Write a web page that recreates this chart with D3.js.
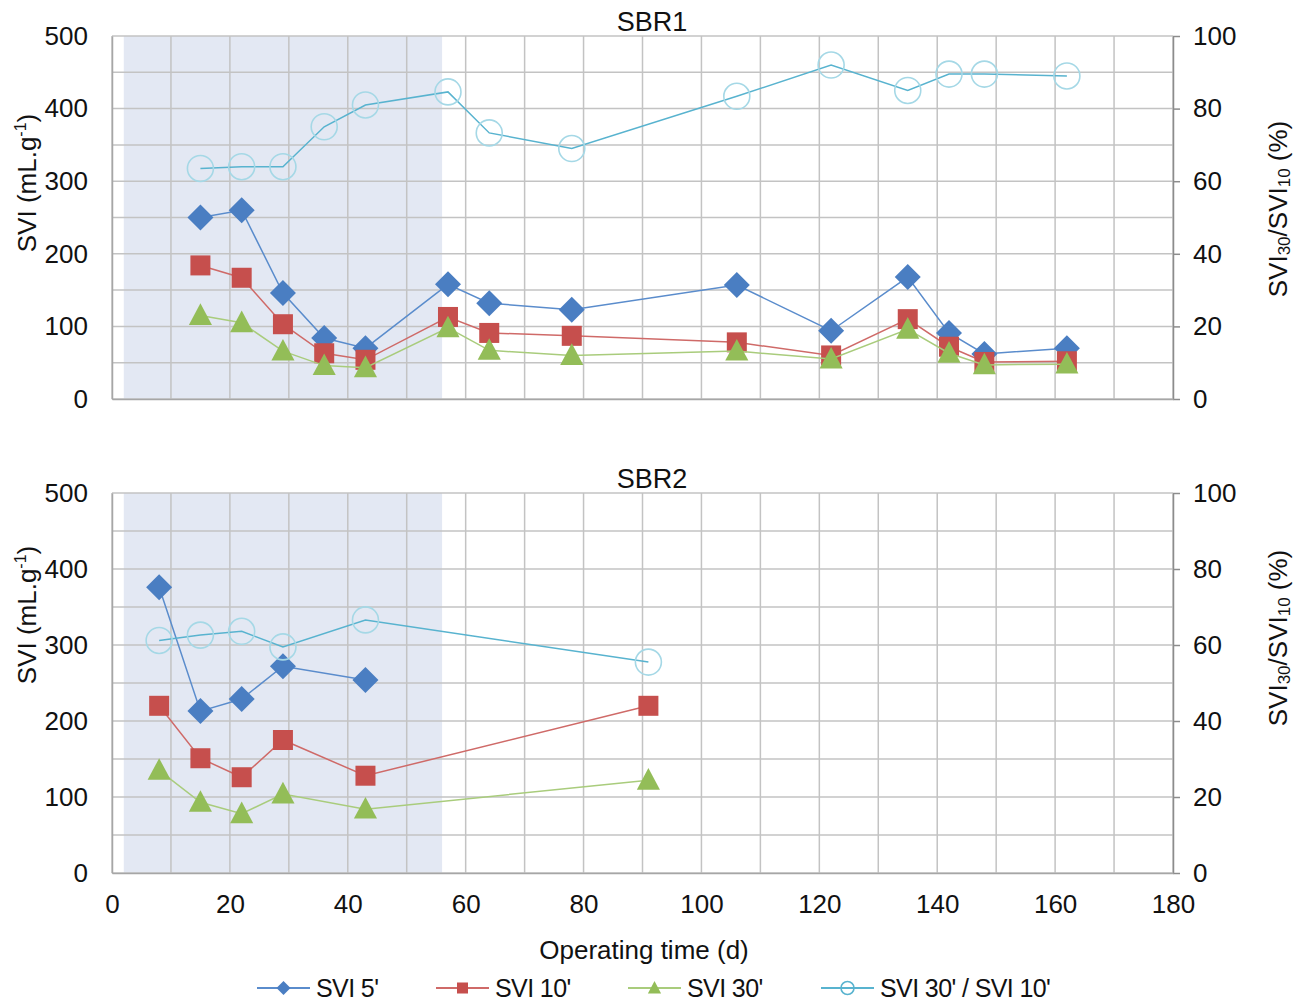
<!DOCTYPE html>
<html><head><meta charset="utf-8">
<script src="https://cdn.jsdelivr.net/npm/d3@7"></script>
<style>
body{margin:0;background:#fff;}
text{font-family:"Liberation Sans",Arial,sans-serif;fill:#111;}
</style></head>
<body>
<svg id="chart" width="1302" height="1003"></svg>
<script>
// ---- data ----
const xTicks = [0,20,40,60,80,100,120,140,160,180];
const yTicksLeft = [0,100,200,300,400,500];
const yTicksRight = [0,20,40,60,80,100];
const shadeDays = [2, 56];

const days1 = [15,22,29,36,43,57,64,78,106,122,135,142,148,162];
const svi5_1  = [250,260,146,84,70,158,132,123,157,94,168,91,62,70];
const svi10_1 = [184,167,103,63,54,113,91,87,78,60,110,72,51,52];
const svi30_1 = [115,105,66,46,43,98,67,60,66,55,96,63,47,48];
const ratio_1 = [63.5,64,64,75,81,84.6,73.3,69,83.4,92,85,89.5,89.5,89];

const days2 = [8,15,22,29,43,91];
const svi5_2  = [376,213,229,272,254,null];
const svi10_2 = [220,151,126,175,128,220];
const svi30_2 = [135,93,78,104,84,122];
const ratio_2 = [61.2,62.6,63.6,59.5,66.6,55.5];

const seriesNames = ["SVI 5'", "SVI 10'", "SVI 30'", "SVI 30' / SVI 10'"];

// ---- styles ----
const colors = {
  s5:{line:"#5a8ccc", mark:"#4a7ec2"},
  s10:{line:"#cf6a68", mark:"#c64f4d"},
  s30:{line:"#a9cc7c", mark:"#93bd58"},
  r:{line:"#58b3cf", mark:"#a5d8e6"}
};
const gridColor = "#c3c3c3";
const FS = 26;

const svg = d3.select("#chart");
const x = d3.scaleLinear().domain([0,180]).range([112,1173]);

const panels = [
  {title:"SBR1", top:36, bottom:399, lc:183, rc:209, days:days1, s5:svi5_1, s10:svi10_1, s30:svi30_1, r:ratio_1, xLabels:false},
  {title:"SBR2", top:493, bottom:873, lc:615, rc:638, days:days2, s5:svi5_2, s10:svi10_2, s30:svi30_2, r:ratio_2, xLabels:true}
];

function diamond(g, cx, cy, r, fill){
  g.append("path").attr("d",`M${cx},${cy-r}L${cx+r},${cy}L${cx},${cy+r}L${cx-r},${cy}Z`).attr("fill",fill);
}
function square(g, cx, cy, s, fill){
  g.append("rect").attr("x",cx-s/2).attr("y",cy-s/2).attr("width",s).attr("height",s).attr("fill",fill);
}
function triangle(g, cx, cy, s, fill){
  g.append("path").attr("d",`M${cx},${cy-s*0.58}L${cx+s*0.55},${cy+s*0.45}L${cx-s*0.55},${cy+s*0.45}Z`).attr("fill",fill);
}
function circle(g, cx, cy, r, stroke){
  g.append("circle").attr("cx",cx).attr("cy",cy).attr("r",r).attr("fill","none").attr("stroke",stroke).attr("stroke-width",1.6);
}

panels.forEach(p=>{
  const y = d3.scaleLinear().domain([0,500]).range([p.bottom,p.top]);
  const y2 = d3.scaleLinear().domain([0,100]).range([p.bottom,p.top]);
  const g = svg.append("g");

  // shading
  g.append("rect").attr("x",x(shadeDays[0])).attr("y",p.top)
    .attr("width",x(shadeDays[1])-x(shadeDays[0])).attr("height",p.bottom-p.top)
    .attr("fill","#e3e8f3");

  // grid
  d3.range(0,181,10).forEach(d=>{
    g.append("line").attr("x1",x(d)).attr("x2",x(d)).attr("y1",p.top).attr("y2",p.bottom)
      .attr("stroke",gridColor).attr("stroke-width",1.5);
  });
  d3.range(0,501,50).forEach(v=>{
    g.append("line").attr("x1",x(0)).attr("x2",x(180)).attr("y1",y(v)).attr("y2",y(v))
      .attr("stroke",gridColor).attr("stroke-width",1.5);
  });

  // left axis
  const la = g.append("g").attr("transform",`translate(${x(0)},0)`)
    .call(d3.axisLeft(y).tickValues(yTicksLeft).tickSize(0).tickPadding(24));
  la.select(".domain").attr("stroke","#a6a6a6").attr("stroke-width",1.5);
  la.selectAll("text").style("font-size",FS+"px").attr("fill","#111");

  // right axis
  const ra = g.append("g").attr("transform",`translate(${x(180)},0)`)
    .call(d3.axisRight(y2).tickValues(yTicksRight).tickSize(7).tickPadding(13).tickSizeOuter(0));
  ra.select(".domain").attr("stroke","#8c8c8c").attr("stroke-width",1.5);
  ra.selectAll("line").attr("stroke","#8c8c8c").attr("stroke-width",1.5);
  ra.selectAll("text").style("font-size",FS+"px").attr("fill","#111");

  // bottom axis
  const ba = g.append("g").attr("transform",`translate(0,${p.bottom})`)
    .call(d3.axisBottom(x).tickValues(xTicks).tickSize(0).tickPadding(22));
  ba.select(".domain").attr("stroke","#a6a6a6").attr("stroke-width",1.5);
  ba.selectAll("text").style("font-size",FS+"px").attr("fill","#111")
    .style("display", p.xLabels ? null : "none");

  // title
  g.append("text").attr("x",652).attr("y",p.top-5).attr("text-anchor","middle")
    .style("font-size","27px").text(p.title);

  // left label
  const lt = g.append("text").attr("transform",`translate(36,${p.lc}) rotate(-90)`)
    .attr("text-anchor","middle").style("font-size",FS+"px");
  lt.append("tspan").text("SVI (mL.g");
  lt.append("tspan").attr("dy",-10).style("font-size","16px").text("-1");
  lt.append("tspan").attr("dy",10).text(")");

  // right label
  const rt = g.append("text").attr("transform",`translate(1287,${p.rc}) rotate(-90)`)
    .attr("text-anchor","middle").style("font-size",FS+"px");
  rt.append("tspan").text("SVI");
  rt.append("tspan").attr("dy",3).style("font-size","17px").text("30");
  rt.append("tspan").attr("dy",-3).text("/SVI");
  rt.append("tspan").attr("dy",3).style("font-size","17px").text("10");
  rt.append("tspan").attr("dy",-3).text(" (%)");

  // series
  const mk = (vals, scale) => p.days.map((d,i)=>({d, v:vals[i]})).filter(o=>o.v!=null).map(o=>[x(o.d), scale(o.v)]);
  const line = d3.line();
  const series = [
    {pts:mk(p.s5,y), c:colors.s5, draw:(cx,cy)=>diamond(g,cx,cy,13,colors.s5.mark)},
    {pts:mk(p.s10,y), c:colors.s10, draw:(cx,cy)=>square(g,cx,cy,20,colors.s10.mark)},
    {pts:mk(p.s30,y), c:colors.s30, draw:(cx,cy)=>triangle(g,cx,cy,21,colors.s30.mark)},
    {pts:mk(p.r,y2), c:colors.r, draw:(cx,cy)=>circle(g,cx,cy,13,colors.r.mark)}
  ];
  series.forEach(s=>{
    g.append("path").attr("d",line(s.pts)).attr("fill","none").attr("stroke",s.c.line).attr("stroke-width",1.5);
    s.pts.forEach(([cx,cy])=>s.draw(cx,cy));
  });
});

// x-axis title
svg.append("text").attr("x",644).attr("y",959).attr("text-anchor","middle")
  .style("font-size",FS+"px").text("Operating time (d)");

// legend
const lg = svg.append("g");
const legItems = [
  {x0:257, c:colors.s5, m:(g,cx,cy)=>diamond(g,cx,cy,7,colors.s5.mark)},
  {x0:436, c:colors.s10, m:(g,cx,cy)=>square(g,cx,cy,11,colors.s10.mark)},
  {x0:628, c:colors.s30, m:(g,cx,cy)=>triangle(g,cx,cy,12,colors.s30.mark)},
  {x0:821, c:colors.r, m:(g,cx,cy)=>circle(g,cx,cy,6.5,colors.r.line)}
];
const ly = 988;
legItems.forEach((it,i)=>{
  lg.append("line").attr("x1",it.x0).attr("x2",it.x0+53).attr("y1",ly).attr("y2",ly)
    .attr("stroke",it.c.line).attr("stroke-width",2);
  it.m(lg, it.x0+26.5, ly);
  lg.append("text").attr("x",it.x0+59).attr("y",ly+9).style("font-size","25px")
    .style("letter-spacing","-0.6px").text(seriesNames[i]);
});
</script>
</body></html>
